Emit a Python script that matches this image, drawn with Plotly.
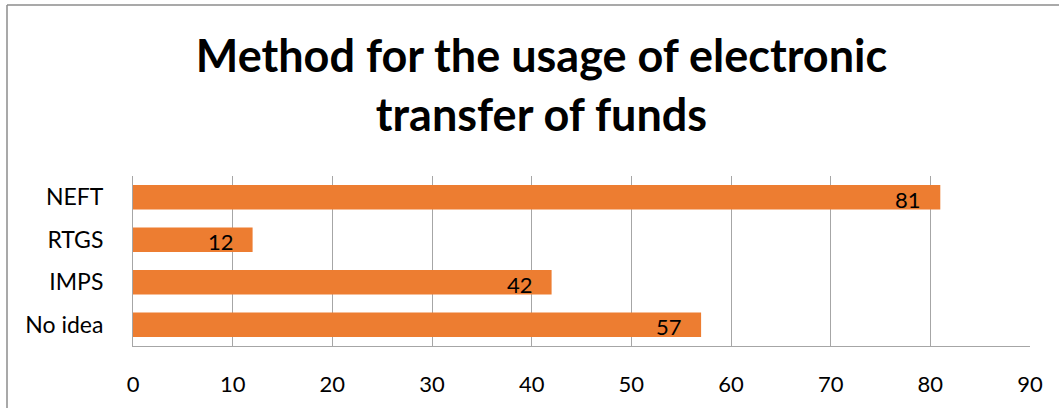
import plotly.graph_objects as go

# Survey responses: preferred method for electronic funds transfer
methods = ["No idea", "IMPS", "RTGS", "NEFT"]
counts = [57, 42, 12, 81]
x_ticks = [0, 10, 20, 30, 40, 50, 60, 70, 80, 90]

W, H = 1059, 408
L, R, T, B = 133, 29, 176, 62
FONT = "Lato"
BAR = "#ED7D31"
GRID = "#A6A6A6"

fig = go.Figure(
    go.Bar(
        x=counts,
        y=methods,
        orientation="h",
        marker=dict(color=BAR, line=dict(width=0)),
        hoverinfo="x+y",
    )
)

# value labels sitting inside the end of each bar
for m, v in zip(methods, counts):
    fig.add_annotation(
        x=v, y=m, xref="x", yref="y",
        text=str(v), showarrow=False,
        xanchor="right", yanchor="middle",
        xshift=-17, yshift=-2,
        font=dict(family=FONT, size=22, color="#000000"),
    )

# chart frame (top and left edges)
pw, ph = W - L - R, H - T - B
def px(x):
    return (x - L) / pw
def py(y):
    return (H - B - y) / ph

frame = dict(color="#8C8C8C", width=1.5)
fig.add_shape(type="line", xref="paper", yref="paper",
              x0=px(7), x1=px(W + 5), y0=py(5), y1=py(5), line=frame)
fig.add_shape(type="line", xref="paper", yref="paper",
              x0=px(7), x1=px(7), y0=py(5), y1=py(H + 5), line=frame)

fig.update_layout(
    width=W, height=H,
    margin=dict(l=L, r=R, t=T, b=B, pad=0, autoexpand=False),
    paper_bgcolor="white",
    plot_bgcolor="white",
    bargap=0.42,
    showlegend=False,
    title=dict(
        text="Method for the usage of electronic<br>transfer of funds",
        font=dict(family=FONT, size=45, color="#000000", weight="bold"),
        x=541.5 / W, xref="container", xanchor="center",
        y=1 - 72 / H, yref="container", yanchor="top",
        automargin=False,
    ),
    xaxis=dict(
        range=[0, 90],
        tickvals=x_ticks,
        ticktext=[str(t) for t in x_ticks],
        showgrid=True, gridcolor=GRID, gridwidth=1,
        showline=True, linecolor=GRID, linewidth=1,
        zeroline=False,
        ticks="", ticklabelstandoff=19,
        tickfont=dict(family=FONT, size=22, color="#000000"),
        automargin=False,
        fixedrange=True,
    ),
    yaxis=dict(
        categoryorder="array", categoryarray=methods,
        showgrid=False,
        showline=True, linecolor=GRID, linewidth=1,
        ticks="", ticklabelstandoff=24,
        tickfont=dict(family=FONT, size=23, color="#000000"),
        automargin=False,
        fixedrange=True,
    ),
)

fig.write_html("out.html")
